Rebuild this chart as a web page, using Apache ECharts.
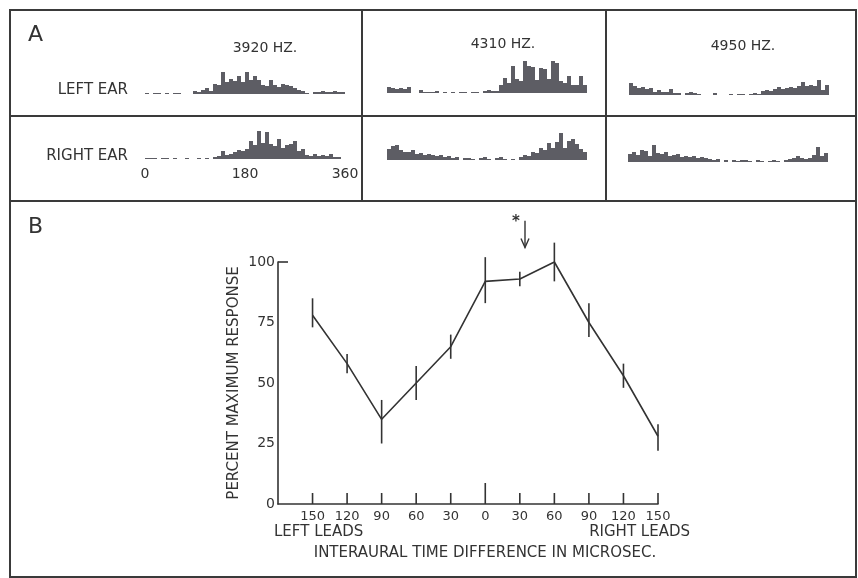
<!DOCTYPE html>
<html>
<head>
<meta charset="utf-8">
<script src="https://cdn.jsdelivr.net/npm/echarts@6/dist/echarts.min.js"></script>
<style>
  html, body { margin: 0; padding: 0; background: #fff; }
  #chart { width: 858px; height: 578px; }
</style>
</head>
<body>
<div id="chart"></div>
<script>
// Panel A: period histograms (50 phase bins over 0-360 deg), heights
const hist3920Left = [1,0,1,1,0,1,0,1,1,0, 0,0,3,2,4,6,3,10,9,22, 12,15,13,18,12,22,14,18,14,9,
  8,14,9,7,10,9,8,6,4,3, 1,0,2,2,3,2,2,3,2,2];
const hist3920Right = [1,1,1,0,1,1,0,1,0,0, 1,0,0,1,0,1,0,2,3,8, 4,5,7,9,8,10,18,14,28,16,
  27,15,13,20,11,14,15,18,8,10, 4,3,5,3,4,3,5,2,2,0];
const hist4310Left = [6,5,4,5,4,6,0,0,3,1, 1,1,2,0,1,0,1,0,1,1, 0,1,1,0,2,3,2,2,8,15,
  10,27,14,12,32,27,26,13,25,24, 14,32,30,12,10,17,8,8,17,8];
const hist4310Right = [11,14,15,10,8,8,10,6,7,5, 6,5,4,5,3,4,2,3,0,2, 2,1,0,2,3,1,0,2,3,1,
  0,1,0,3,5,4,8,7,12,10, 17,12,18,27,12,19,21,16,11,8];
const hist4950Left = [12,9,7,8,6,7,3,5,3,3, 6,2,2,0,2,3,2,1,0,0, 0,2,0,0,0,1,0,1,1,0,
  1,2,1,4,5,4,6,8,6,7, 8,7,9,13,9,10,9,15,5,10];
const hist4950Right = [8,10,7,12,11,6,17,9,8,10, 6,7,8,5,6,5,6,4,5,4, 3,2,3,0,2,0,2,1,2,2,
  1,0,2,1,0,1,2,1,0,2, 3,4,6,4,3,4,7,15,6,9];
const phaseTicks = [0, 180, 360];
const frequencies = ['3920 HZ.', '4310 HZ.', '4950 HZ.'];

// Panel B: percent maximum response vs interaural time difference
const itdLabels = ['150', '120', '90', '60', '30', '0', '30', '60', '90', '120', '150'];
const response = [78, 58, 35, 50, 65, 92, 93, 100, 75, 53, 28];
const errLow   = [73, 54, 25, 43, 60, 83, 90, 92, 69, 48, 22];
const errHigh  = [85, 62, 43, 57, 70, 102, 96, 108, 83, 58, 33];
const yTicks = [0, 25, 50, 75, 100];
const arrowMark = [6.15, 117, 106]; // x index, top, bottom (asterisked best delay)

const ink = '#333';
const barColor = '#5d5d64';
const font = 'DejaVu Sans';

const chart = echarts.init(document.getElementById('chart'));

const histGrids = [
  { left: 145, top: 62 },  { left: 145, top: 127 },
  { left: 387, top: 61 },  { left: 387, top: 128 },
  { left: 629, top: 63 },  { left: 628, top: 130 }
];
const histData = [hist3920Left, hist3920Right, hist4310Left, hist4310Right, hist4950Left, hist4950Right];

const grid = histGrids.map(g => ({ left: g.left, top: g.top, width: 200, height: 32 }));
grid.push({ left: 278, top: 262, width: 380, height: 242 });

const xAxis = histData.map((d, i) => ({
  type: 'category', gridIndex: i, position: 'top', data: d.map((_, k) => k), show: false, boundaryGap: true
}));
xAxis.push({
  type: 'value', gridIndex: 1, position: 'bottom', min: 0, max: 360, interval: 180,
  axisLine: { show: false }, axisTick: { show: false }, splitLine: { show: false },
  axisLabel: {
    margin: 8, color: ink, fontFamily: font, fontSize: 14,
    formatter: v => phaseTicks.includes(v) ? String(v) : ''
  }
});
xAxis.push({
  type: 'value', gridIndex: 6, position: 'bottom', min: -1, max: 10, interval: 1,
  axisLine: { onZero: false, lineStyle: { color: ink, width: 1.6 } },
  axisTick: { show: false }, splitLine: { show: false },
  axisLabel: {
    margin: 6, color: ink, fontFamily: font, fontSize: 13,
    formatter: v => (v >= 0 && itdLabels[v] !== undefined) ? itdLabels[v] : ''
  }
});

const yAxis = histData.map((_, i) => ({ type: 'value', gridIndex: i, min: 0, max: 32, show: false }));
yAxis.push({
  type: 'value', gridIndex: 6, position: 'left', min: 0, max: 100, interval: 25,
  name: 'PERCENT MAXIMUM RESPONSE', nameLocation: 'middle', nameGap: 36, nameRotate: 90,
  nameTextStyle: { color: ink, fontFamily: font, fontSize: 15 },
  axisLine: { show: true, onZero: false, lineStyle: { color: ink, width: 1.6 } },
  axisTick: { show: false }, splitLine: { show: false },
  axisLabel: { margin: 3, color: ink, fontFamily: font, fontSize: 14 }
});

const series = histData.map((d, i) => ({
  type: 'bar', xAxisIndex: i, yAxisIndex: i, data: d,
  barCategoryGap: '0%', barGap: '0%', silent: true,
  itemStyle: { color: barColor }
}));

// main curve
series.push({
  type: 'line', xAxisIndex: 7, yAxisIndex: 6,
  data: response.map((v, i) => [i, v]),
  showSymbol: false, lineStyle: { color: ink, width: 1.6 }, silent: true
});

// error bars
series.push({
  type: 'custom', xAxisIndex: 7, yAxisIndex: 6, silent: true,
  data: response.map((_, i) => [i, errLow[i], errHigh[i]]),
  renderItem: (params, api) => {
    const lo = api.coord([api.value(0), api.value(1)]);
    const hi = api.coord([api.value(0), api.value(2)]);
    return {
      type: 'line',
      shape: { x1: lo[0], y1: lo[1], x2: hi[0], y2: hi[1] },
      style: { stroke: ink, lineWidth: 1.6 }
    };
  }
});

// x ticks pointing up, the zero-delay tick longer
series.push({
  type: 'custom', xAxisIndex: 7, yAxisIndex: 6, silent: true,
  data: itdLabels.map((_, i) => [i, 0]),
  renderItem: (params, api) => {
    const p = api.coord([api.value(0), 0]);
    const len = api.value(0) === 5 ? 21 : 11;
    return {
      type: 'line',
      shape: { x1: p[0], y1: p[1], x2: p[0], y2: p[1] - len },
      style: { stroke: ink, lineWidth: 1.6 }
    };
  }
});

// single tick at 100 on the y axis
series.push({
  type: 'custom', xAxisIndex: 7, yAxisIndex: 6, silent: true,
  data: [[-1, yTicks[yTicks.length - 1]]],
  renderItem: (params, api) => {
    const p = api.coord([api.value(0), api.value(1)]);
    return {
      type: 'line',
      shape: { x1: p[0], y1: p[1], x2: p[0] + 10, y2: p[1] },
      style: { stroke: ink, lineWidth: 1.6 }
    };
  }
});

// asterisk arrow
series.push({
  type: 'custom', xAxisIndex: 7, yAxisIndex: 6, silent: true,
  data: [arrowMark],
  renderItem: (params, api) => {
    const top = api.coord([api.value(0), api.value(1)]);
    const bot = api.coord([api.value(0), api.value(2)]);
    return {
      type: 'group',
      children: [
        { type: 'line', shape: { x1: top[0], y1: top[1], x2: bot[0], y2: bot[1] },
          style: { stroke: ink, lineWidth: 1.4 } },
        { type: 'polyline', shape: { points: [[bot[0] - 4, bot[1] - 9], [bot[0], bot[1]], [bot[0] + 4, bot[1] - 9]] },
          style: { stroke: ink, lineWidth: 1.4, fill: null } },
        { type: 'text', style: { x: top[0] - 9, y: top[1] + 1, text: '*', fill: ink,
          font: 'bold 15px ' + font, align: 'center', verticalAlign: 'middle' } }
      ]
    };
  }
});

const txt = (x, y, text, size, align) => ({
  type: 'text', x, y,
  style: { text, fill: ink, font: size + 'px "' + font + '"', align: align || 'left', verticalAlign: 'middle' }
});
const line = (x1, y1, x2, y2) => ({
  type: 'line', shape: { x1, y1, x2, y2 }, style: { stroke: '#3a3a3a', lineWidth: 2 }
});

const graphic = [
  { type: 'rect', shape: { x: 10, y: 10, width: 846, height: 567 },
    style: { fill: null, stroke: '#3a3a3a', lineWidth: 2 } },
  line(10, 116, 856, 116),
  line(10, 201, 856, 201),
  line(362, 10, 362, 201),
  line(606, 10, 606, 201),
  txt(28, 35, 'A', 22),
  txt(28, 227, 'B', 22),
  txt(265, 48, frequencies[0], 14, 'center'),
  txt(503, 44, frequencies[1], 14, 'center'),
  txt(743, 46, frequencies[2], 14, 'center'),
  txt(128, 90, 'LEFT EAR', 15, 'right'),
  txt(128, 156, 'RIGHT EAR', 15, 'right'),
  txt(274, 532, 'LEFT LEADS', 15, 'left'),
  txt(690, 532, 'RIGHT LEADS', 15, 'right'),
  txt(485, 553, 'INTERAURAL TIME DIFFERENCE IN MICROSEC.', 15, 'center')
];

chart.setOption({
  backgroundColor: '#fff',
  animation: false,
  grid, xAxis, yAxis, series, graphic
});
</script>
</body>
</html>
